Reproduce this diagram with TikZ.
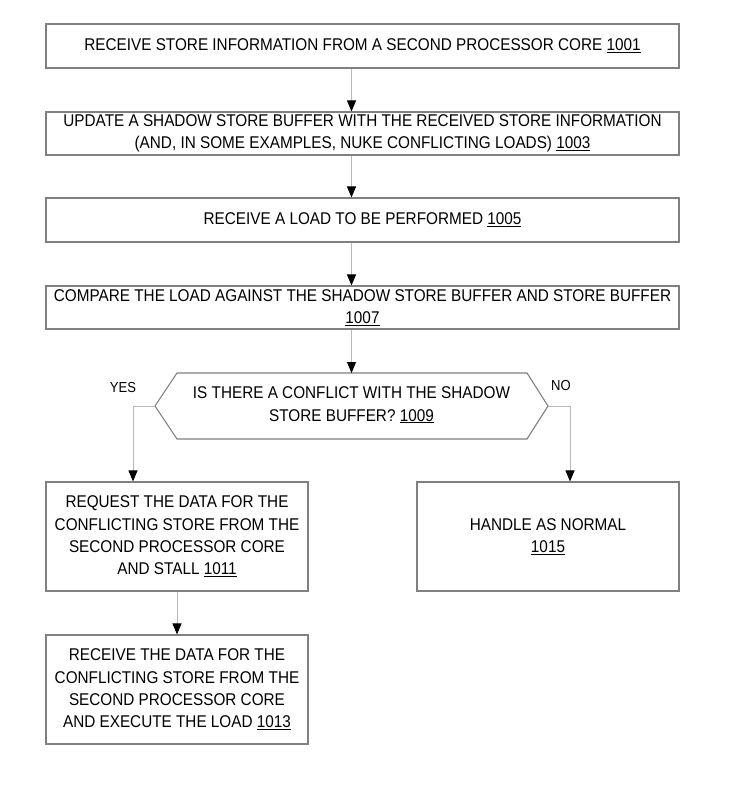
\documentclass[tikz,border=0pt]{standalone}
\usepackage{fontspec}
\setmainfont{Liberation Sans}[FakeStretch=0.9]
\usetikzlibrary{arrows.meta}

\begin{document}
\begin{tikzpicture}[x=1pt,y=-1pt,
    box/.style={draw=black!50, line width=1.1pt, align=center, inner sep=0pt,
      font=\fontsize{17}{22.3}\selectfont},
    flow/.style={draw=black!28, line width=0.9pt,
      -{Triangle[length=11pt,width=9pt,color=black]}},
    tag/.style={font=\fontsize{14.5}{16}\selectfont}]
      \useasboundingbox (0,0) rectangle (742,786);

      \node[box, minimum width=633pt, minimum height=44pt] (A) at (362.5,46)
        {RECEIVE STORE INFORMATION FROM A SECOND PROCESSOR CORE \underline{1001}};
      \node[box, minimum width=633pt, minimum height=43pt] (B) at (362.5,133.5)
        {UPDATE A SHADOW STORE BUFFER WITH THE RECEIVED STORE INFORMATION\\
         (AND, IN SOME EXAMPLES, NUKE CONFLICTING LOADS) \underline{1003}};
      \node[box, minimum width=633pt, minimum height=44pt] (C) at (362.5,220)
        {RECEIVE A LOAD TO BE PERFORMED \underline{1005}};
      \node[box, minimum width=633pt, minimum height=43pt] (D) at (362.5,307.5)
        {COMPARE THE LOAD AGAINST THE SHADOW STORE BUFFER AND STORE BUFFER\\
         \underline{1007}};

      \coordinate (EL) at (155,406);
      \coordinate (ER) at (548,406);
      \draw[draw=black!50, line width=1.1pt] (EL) -- (177,373) -- (527,373) -- (ER)
        -- (527,439) -- (177,439) -- cycle;
      \node[box, draw=none] (E) at (351.5,405)
        {IS THERE A CONFLICT WITH THE SHADOW\\ STORE BUFFER? \underline{1009}};

      \node[box, minimum width=262pt, minimum height=109pt] (F) at (177,536.5)
        {REQUEST THE DATA FOR THE\\ CONFLICTING STORE FROM THE\\
         SECOND PROCESSOR CORE\\ AND STALL \underline{1011}};
      \node[box, minimum width=262pt, minimum height=109pt] (G) at (177,689.5)
        {RECEIVE THE DATA FOR THE\\ CONFLICTING STORE FROM THE\\
         SECOND PROCESSOR CORE\\ AND EXECUTE THE LOAD \underline{1013}};
      \node[box, minimum width=262pt, minimum height=109pt] (H) at (548,536.5)
        {HANDLE AS NORMAL\\ \underline{1015}};

      \node[tag] (yes) at (123,388) {YES};
      \node[tag] (no) at (561,386) {NO};

      \draw[flow] (A.south -| E) -- (B.north -| E);
      \draw[flow] (B.south -| E) -- (C.north -| E);
      \draw[flow] (C.south -| E) -- (D.north -| E);
      \draw[flow] (D.south -| E) -- (E.north |- 373,373);
      \draw[flow] (EL) -| ([xshift=-44pt]F.north);
      \draw[flow] (ER) -| ([xshift=22pt]H.north);
      \draw[flow] (F) -- (G);
    \end{tikzpicture}
\end{document}
